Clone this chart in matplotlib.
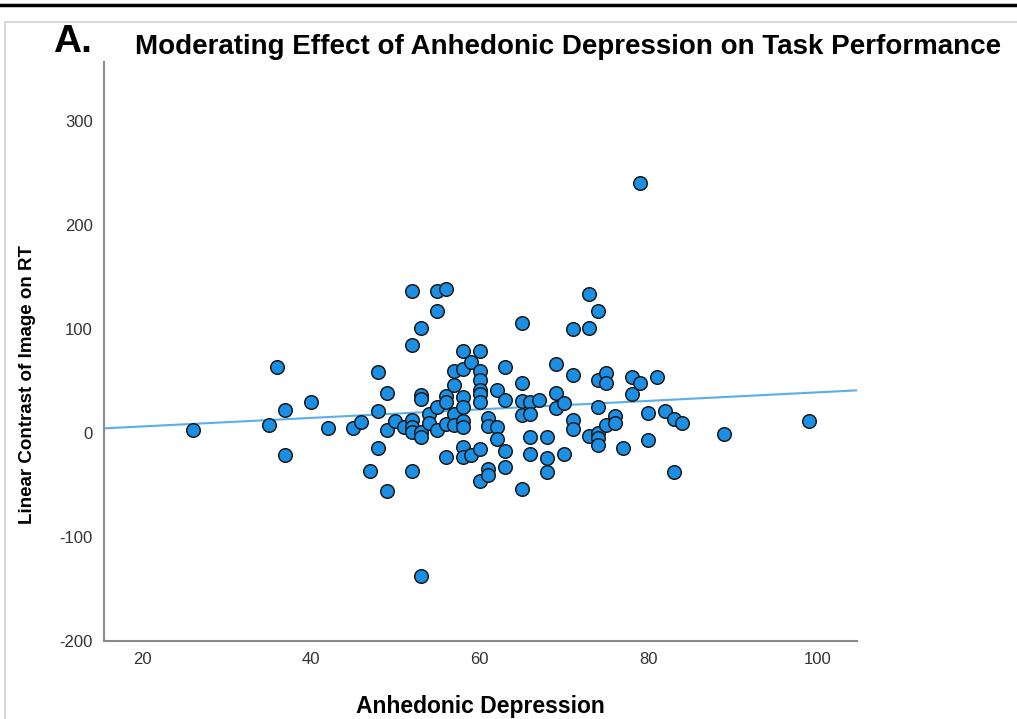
import matplotlib.pyplot as plt
import numpy as np
from matplotlib.lines import Line2D
from matplotlib.patches import Rectangle

# anhedonic depression score -> linear contrast values
depression = [26, 35, 36, 37, 37, 40, 42, 45, 46, 47,
              48, 48, 48, 49, 49, 49, 50, 51,
              52, 52, 52, 52, 52, 52,
              53, 53, 53, 53, 53, 53,
              54, 54, 55, 55, 55, 55,
              56, 56, 56, 56, 56,
              57, 57, 57, 57,
              58, 58, 58, 58, 58, 58, 58, 58,
              59, 59,
              60, 60, 60, 60, 60, 60, 60, 60,
              61, 61, 61, 61, 62, 62, 62,
              63, 63, 63, 63,
              65, 65, 65, 65, 65,
              66, 66, 66, 66, 67, 68, 68, 68,
              69, 69, 69, 70, 70,
              71, 71, 71, 71, 73, 73, 73,
              74, 74, 74, 74, 74, 74,
              75, 75, 75, 76, 76, 77, 78, 78, 79, 79,
              80, 80, 81, 82, 83, 83, 84, 89, 99]
contrast = [3, 8, 64, 22, -21, 30, 5, 5, 11, -36,
            59, 21, -14, 39, 3, -56, 12, 6,
            137, 85, 13, 6, 1, -36,
            101, 37, 33, 1, -4, -137,
            18, 10, 137, 117, 25, 3,
            139, 36, 30, 9, -23,
            60, 46, 18, 8,
            79, 62, 35, 25, 12, 6, -13, -23,
            68, -21,
            79, 60, 51, 41, 38, 30, -15, -46,
            15, 7, -35, -40, 41, 6, -6,
            64, 32, -17, -33,
            106, 48, 31, 17, -54,
            30, 18, -4, -20, 32, -4, -24, -37,
            66, 39, 24, 29, -20,
            100, 56, 13, 4, 134, 101, -3,
            117, 51, 25, 0, -5, -11,
            58, 48, 8, 16, 10, -14, 54, 38, 241, 48,
            19, -7, 54, 21, 14, -37, 10, -1, 12]

# fit line as drawn in the chart
fit_intercept = -1.8
fit_slope = 0.41

x_ticks = [20, 40, 60, 80, 100]
y_ticks = [-200, -100, 0, 100, 200, 300]

plt.rcParams['font.family'] = ['Liberation Sans', 'DejaVu Sans']
plt.rcParams['axes.unicode_minus'] = False

fig = plt.figure(figsize=(10.17, 7.19), dpi=100)

# outer frame: black rule on top and grey box
fig.add_artist(Line2D([0, 1], [1 - 5 / 719, 1 - 5 / 719], color='black', lw=2.5,
                      transform=fig.transFigure))
fig.add_artist(Rectangle((5 / 1017, -0.01), 1.1, 1 - 22 / 719 + 0.01, fill=False,
                         edgecolor='#cfcfcf', lw=1.2, transform=fig.transFigure))

ax = fig.add_axes([104 / 1017, 1 - 641 / 719, (857 - 104) / 1017, (641 - 62) / 719])

xs = np.array([15.5, 104.7])
ax.plot(xs, fit_intercept + fit_slope * xs, color='#5aaeea', lw=1.5, zorder=2)
ax.scatter(depression, contrast, s=95, facecolor='#1a8fe3', edgecolor='#1a1a1a',
           linewidths=1.1, zorder=3)

ax.set_xlim(15.5, 104.7)
ax.set_ylim(-200, 357)
ax.set_xticks(x_ticks)
ax.set_yticks(y_ticks)
ax.tick_params(length=0, labelsize=12, colors='#333333', pad=8)
for s in ['top', 'right']:
    ax.spines[s].set_visible(False)
for s in ['left', 'bottom']:
    ax.spines[s].set_color('#8a8a8a')
    ax.spines[s].set_linewidth(1.5)

ax.set_xlabel('Anhedonic Depression', fontsize=16.5, fontweight='bold', labelpad=20)
fig.text(28 / 1017, 1 - 385 / 719, 'Linear Contrast of Image on RT', fontsize=13.5,
         fontweight='bold', rotation=90, ha='center', va='center')

fig.text(568 / 1017, 1 - 47 / 719, 'Moderating Effect of Anhedonic Depression on Task Performance',
         fontsize=20, fontweight='bold', ha='center', va='center')
fig.text(53 / 1017, 1 - 42 / 719, 'A.', fontsize=28, fontweight='bold', ha='left', va='center')

fig.savefig('out.png', dpi=100)
